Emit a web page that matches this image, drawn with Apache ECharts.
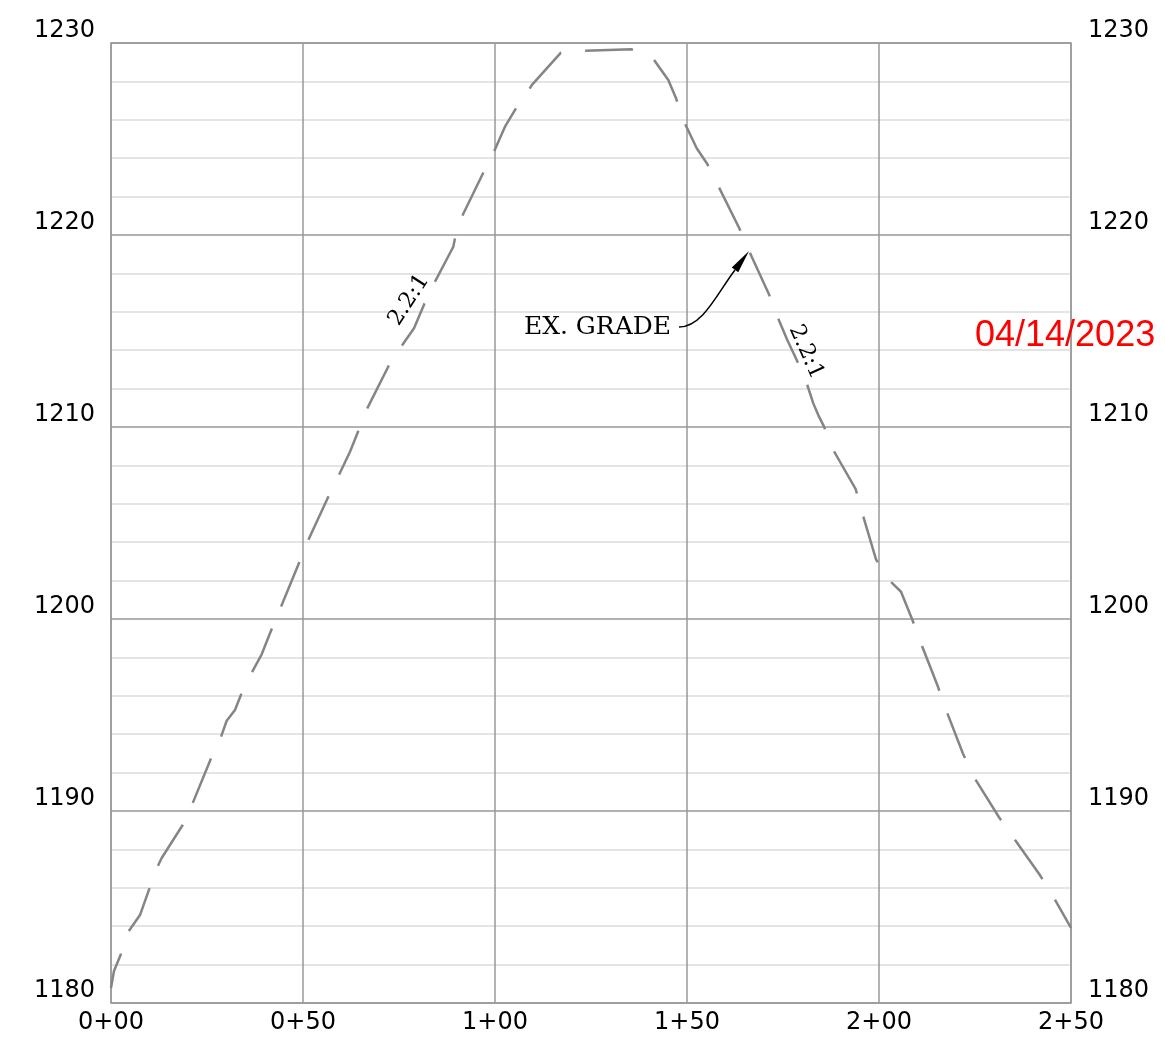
<!DOCTYPE html>
<html><head><meta charset="utf-8">
<script src="https://cdn.jsdelivr.net/npm/echarts@6/dist/echarts.min.js"></script>
<style>html,body{margin:0;padding:0;background:#fff}#c{width:1165px;height:1044px}</style>
</head><body><div id="c"></div>
<script>
// Station (ft) of each profile vertex
const stations = [0.00,0.78,2.60,4.51,7.55,9.97,12.06,13.20,18.67,21.17,26.04,28.57,30.13,32.29,33.93,36.64,39.24,41.85,44.27,48.96,51.38,56.59,59.45,62.24,64.40,66.74,72.32,75.70,78.91,81.59,84.38,89.14,89.58,91.59,96.95,99.74,102.60,105.47,108.93,109.56,117.11,123.00,135.60,140.81,145.13,147.14,149.22,152.53,155.29,157.73,163.62,165.96,171.43,173.36,176.12,178.57,181.17,182.89,184.19,185.68,187.84,189.84,193.93,195.65,199.22,202.42,205.73,208.78,210.76,215.29,217.45,221.88,224.66,231.17,234.64,241.85,245.31,250.00];
// Elevation (ft) of each profile vertex
const elevations = [1180.78,1181.67,1182.55,1183.71,1184.58,1185.94,1187.08,1187.55,1189.27,1190.36,1192.74,1193.82,1194.70,1195.26,1196.09,1197.20,1198.16,1199.48,1200.64,1202.92,1204.11,1206.37,1207.54,1208.71,1209.79,1210.97,1213.19,1214.23,1215.14,1216.41,1217.57,1219.39,1219.83,1221.04,1223.24,1224.34,1225.64,1226.60,1227.59,1227.81,1229.49,1229.60,1229.67,1229.29,1228.07,1227.12,1225.90,1224.52,1223.70,1222.72,1220.35,1219.26,1216.87,1215.83,1214.53,1213.49,1212.28,1211.23,1210.62,1210.02,1208.89,1208.19,1206.76,1205.51,1203.11,1202.07,1201.42,1199.91,1198.82,1196.51,1195.27,1192.98,1191.79,1189.70,1188.71,1186.68,1185.56,1183.91];
const xTickLabels = ['0+00','0+50','1+00','1+50','2+00','2+50'];
const yTickLabels = ['1180','1190','1200','1210','1220','1230'];
const gradeLabel = 'EX. GRADE';
const slopeLabel = '2.2:1';
const dateLabel = '04/14/2023';

const chart = echarts.init(document.getElementById('c'));
const profile = stations.map((s, i) => [s, elevations[i]]);
const yFmt = v => yTickLabels[Math.round((v - 1180) / 10)];
const labelFont = {fontFamily: 'DejaVu Sans', fontSize: 24, color: '#000'};

chart.setOption({
  animation: false,
  grid: {left: 111, right: 94, top: 43, bottom: 41, show: true, borderColor: '#999', borderWidth: 1.5, backgroundColor: 'transparent'},
  xAxis: {
    type: 'value', min: 0, max: 250, interval: 50,
    axisLine: {show: false}, axisTick: {show: false},
    axisLabel: Object.assign({formatter: v => xTickLabels[Math.round(v / 50)], margin: 8}, labelFont),
    splitLine: {show: true, lineStyle: {color: '#999', width: 1.5}}
  },
  yAxis: [{
    type: 'value', min: 1180, max: 1230, interval: 10, position: 'left',
    axisLine: {show: false}, axisTick: {show: false},
    axisLabel: Object.assign({formatter: yFmt, margin: 16, verticalAlign: 'bottom'}, labelFont),
    splitLine: {show: true, lineStyle: {color: '#999', width: 1.5}},
    minorTick: {show: false, splitNumber: 5},
    minorSplitLine: {show: true, lineStyle: {color: '#dcdcdc', width: 1.5}}
  }, {
    type: 'value', min: 1180, max: 1230, interval: 10, position: 'right',
    axisLine: {show: false}, axisTick: {show: false},
    axisLabel: Object.assign({formatter: yFmt, margin: 17, verticalAlign: 'bottom'}, labelFont),
    splitLine: {show: false}
  }],
  series: [{
    type: 'line', data: profile, showSymbol: false, z: 5,
    lineStyle: {color: '#858585', width: 2.5, type: [48, 24], dashOffset: 12}
  }]
});

const px = (x, y) => chart.convertToPixel({xAxisIndex: 0, yAxisIndex: 0}, [x, y]);
const tail = px(147.92, 1215.21), cp1 = px(154.17, 1215.21), cp2 = px(158.07, 1217.03);
const base = px(162.5, 1218.18), tip = px(166.15, 1219.17);
const dx = tip[0] - base[0], dy = tip[1] - base[1], len = Math.hypot(dx, dy);
const nx = -dy / len * 4, ny = dx / len * 4;
const gText = px(145.83, 1215.16), sL = px(77.6, 1216.61), sR = px(181.0, 1213.91), dt = px(225.0, 1214.74);

chart.setOption({graphic: [
  {type: 'text', x: gText[0], y: gText[1], z: 10, style: {text: gradeLabel, fontFamily: 'DejaVu Serif', fontSize: 25, fill: '#000', align: 'right', verticalAlign: 'middle'}},
  {type: 'bezierCurve', z: 10, shape: {x1: tail[0], y1: tail[1], cpx1: cp1[0], cpy1: cp1[1], cpx2: cp2[0], cpy2: cp2[1], x2: base[0], y2: base[1]}, style: {stroke: '#000', lineWidth: 1.5, fill: null}},
  {type: 'polygon', z: 10, shape: {points: [tip, [base[0] + nx, base[1] + ny], [base[0] - nx, base[1] - ny]]}, style: {fill: '#000'}},
  {type: 'text', x: sL[0], y: sL[1], rotation: 57 * Math.PI / 180, z: 10, style: {text: slopeLabel, fontFamily: 'DejaVu Serif', fontSize: 22, fill: '#000', align: 'center', verticalAlign: 'middle'}},
  {type: 'text', x: sR[0], y: sR[1], rotation: -66 * Math.PI / 180, z: 10, style: {text: slopeLabel, fontFamily: 'DejaVu Serif', fontSize: 22, fill: '#000', align: 'center', verticalAlign: 'middle'}},
  {type: 'text', x: dt[0], y: dt[1], z: 10, style: {text: dateLabel, fontFamily: 'Liberation Sans', fontSize: 36, fill: '#ff0000', align: 'left', verticalAlign: 'middle'}}
]});
</script>
</body></html>
